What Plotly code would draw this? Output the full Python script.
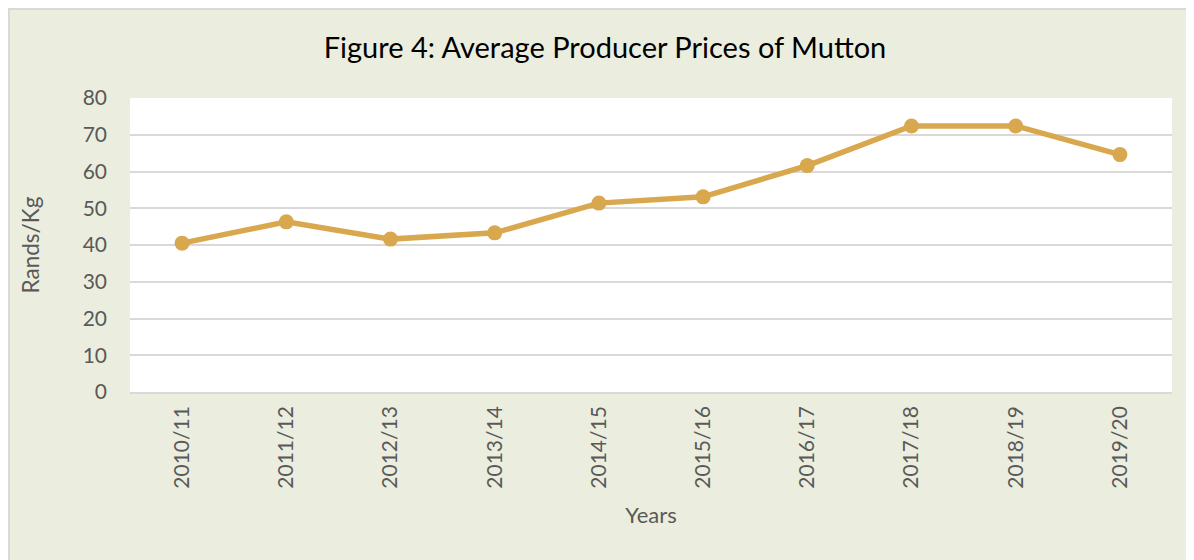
import plotly.graph_objects as go

years = ["2010/11", "2011/12", "2012/13", "2013/14", "2014/15",
         "2015/16", "2016/17", "2017/18", "2018/19", "2019/20"]
prices = [40.5, 46.3, 41.6, 43.3, 51.4, 53.1, 61.6, 72.4, 72.4, 64.6]
y_ticks = [0, 10, 20, 30, 40, 50, 60, 70, 80]

W, H = 1194, 560
ML, MR, MT, MB = 122, 30, 90, 176
PW, PH = W - ML - MR, H - MT - MB

def px(x):
    return (x - ML) / PW

def py(y):
    return (H - MB - y) / PH

BG = "#EBEEDE"
LINE = "#D9A84E"
FONT = "Lato"

fig = go.Figure()
fig.add_trace(go.Scatter(
    x=years, y=prices, mode="lines+markers",
    line=dict(color=LINE, width=5.5),
    marker=dict(color=LINE, size=15),
    hoverinfo="x+y", showlegend=False,
))

shapes = [
    dict(type="line", xref="paper", yref="paper", x0=px(1), x1=px(1), y0=py(H), y1=py(0),
         line=dict(color="#D9D9D9", width=2)),
    dict(type="line", xref="paper", yref="paper", x0=px(0), x1=px(W), y0=py(1), y1=py(1),
         line=dict(color="#D9D9D9", width=2)),
]

fig.update_layout(
    width=W, height=H,
    margin=dict(l=ML, r=MR, t=MT, b=MB),
    paper_bgcolor=BG, plot_bgcolor="white",
    font=dict(family=FONT, color="#595959"),
    title=dict(text="Figure 4: Average Producer Prices of Mutton",
               x=0.5, xref="container", xanchor="center",
               y=1 - 40 / H, yref="container", yanchor="middle",
               font=dict(family=FONT, size=29, color="#000000")),
    shapes=shapes,
    xaxis=dict(
        type="category", range=[-0.5, 9.5], tickangle=-90,
        tickfont=dict(size=21, color="#595959"),
        showgrid=False, showline=True, linecolor="#D9D9D9", linewidth=1.5,
        ticks="", ticklabelstandoff=4,
        title=dict(text="Years", font=dict(size=22, color="#595959"), standoff=20),
    ),
    yaxis=dict(
        range=[0, 80], tickvals=y_ticks,
        tickfont=dict(size=21, color="#595959"),
        showgrid=True, gridcolor="#D9D9D9", gridwidth=1.5,
        zeroline=False, showline=False, ticks="",
        ticklabelstandoff=22,
        title=dict(text="Rands/Kg", font=dict(size=22.5, color="#595959"), standoff=36),
    ),
)

fig.write_html("out.html")
